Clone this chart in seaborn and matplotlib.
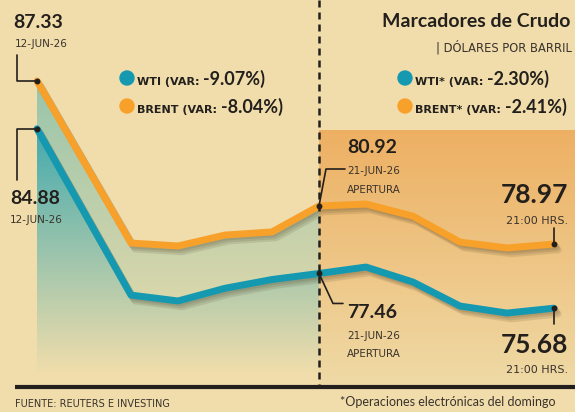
import numpy as np
import pandas as pd
import matplotlib
matplotlib.use("Agg")
import matplotlib.pyplot as plt
import seaborn as sns
from matplotlib import patheffects as pe
from matplotlib.colors import LinearSegmentedColormap
from matplotlib.patches import Polygon, Ellipse

# ---- data ----
pos = [0, 2, 3, 4, 5, 6, 7, 8, 9, 10, 11]   # 12-jun ... week ... 21-jun apertura ... 21:00 hrs
brent = [87.33, 79.02, 78.87, 79.43, 79.59, 80.92, 81.02, 80.40, 79.07, 78.77, 78.97]
wti = [84.88, 76.35, 76.05, 76.70, 77.15, 77.46, 77.79, 77.02, 75.79, 75.43, 75.68]
series = ["BRENT", "WTI"]
var_semana = {"WTI": "-9.07%", "BRENT": "-8.04%"}
var_domingo = {"WTI": "-2.30%", "BRENT": "-2.41%"}

df = pd.DataFrame({
    "pos": pos * 2,
    "precio": brent + wti,
    "crudo": ["BRENT"] * len(pos) + ["WTI"] * len(pos),
})

# ---- colours ----
BG = "#F0DDAB"
TEAL = "#1599B0"
ORANGE = "#F8A12A"
INK = "#231f1c"

sns.set_theme(style="white")
plt.rcParams["font.family"] = ["DejaVu Sans"]
NUM = {"family": ["Lato", "DejaVu Sans"], "weight": "bold", "color": INK}
SMALL = {"family": ["DejaVu Sans"], "color": "#3a332c"}

W, H = 575, 412
fig = plt.figure(figsize=(W / 100, H / 100), dpi=100)
fig.patch.set_facecolor(BG)
ax = fig.add_axes([0, 0, 1, 1])
ax.set_facecolor(BG)

# axis range: 47 px per position step, 19.5 px per dollar
X0, X1 = -37 / 47, (W - 37) / 47
Y1 = 87.33 + 81 / 19.5
Y0 = Y1 - H / 19.5
PX = (X1 - X0) / W
PY = (Y1 - Y0) / H


def at(x, y, dx, dy):
    # shift a data point by dx px right, dy px down
    return x + dx * PX, y - dy * PY


def fy(py):
    return Y1 - py * PY


def gradient(c_top, c_bottom, x0, x1, y_top, y_bot, clip=None, z=1):
    cmap = LinearSegmentedColormap.from_list("g", [c_bottom, c_top])
    grad = np.linspace(0, 1, 256).reshape(-1, 1)
    im = ax.imshow(grad, extent=[x0, x1, y_bot, y_top], origin="lower", cmap=cmap,
                   aspect="auto", zorder=z, interpolation="bicubic")
    if clip is not None:
        im.set_clip_path(clip)


base = fy(387)
fade = fy(372)

# orange panel behind the sunday session
gradient("#EDB063", "#EFDAA6", pos[5], X1, fy(130), base, z=1)

# teal fills of the weekly part
k = pos.index(6) + 1
clip_b = Polygon(list(zip(pos[:k], brent[:k])) + [(pos[k - 1], fade), (pos[0], fade)],
                 closed=True, transform=ax.transData)
gradient("#98C5AC", BG, pos[0], pos[k - 1], max(brent), fade, clip=clip_b, z=2)
clip_w = Polygon(list(zip(pos[:k], wti[:k])) + [(pos[k - 1], fade), (pos[0], fade)],
                 closed=True, transform=ax.transData)
gradient("#42AAAE", BG, pos[0], pos[k - 1], max(wti), fade, clip=clip_w, z=3)

# lines
sns.lineplot(data=df, x="pos", y="precio", hue="crudo", hue_order=series,
             palette=[ORANGE, TEAL], linewidth=5, legend=False, ax=ax, zorder=5)
shadow = [pe.SimpleLineShadow(offset=(o, -1.4 * o), shadow_color="#4a3a20", alpha=0.13)
          for o in (1.0, 2.0, 3.0)]
for ln in ax.get_lines():
    ln.set_solid_joinstyle("round")
    ln.set_path_effects(shadow + [pe.Normal()])

ax.set_xlim(X0, X1)
ax.set_ylim(Y0, Y1)
ax.axis("off")

# dashed separator and base line
ax.plot([pos[5], pos[5]], [Y1, base], color=INK, lw=1.8, ls=(0, (2.8, 2)), zorder=6)
ax.plot([X0 + 15 * PX, X1], [base, base], color=INK, lw=3, solid_capstyle="butt", zorder=6)

# end / opening dots
for i in [0, 5, 10]:
    ax.scatter([pos[i], pos[i]], [brent[i], wti[i]], s=18, color=INK, zorder=8, linewidths=0)


def callout(x, y, offs):
    pts = [(x, y)] + [at(x, y, dx, dy) for dx, dy in offs]
    ax.plot([p[0] for p in pts], [p[1] for p in pts], color=INK, lw=1.2, zorder=7)


def label(x, y, dx, dy, s, size, style, ha="left"):
    tx, ty = at(x, y, dx, dy)
    ax.text(tx, ty, s, fontsize=size, ha=ha, va="baseline", zorder=9, **style)


# start (12-jun)
callout(pos[0], brent[0], [(-20, 0), (-20, -26)])
label(pos[0], brent[0], -24, -53, f"{brent[0]:.2f}", 14, NUM)
label(pos[0], brent[0], -22, -34, "12-JUN-26", 7.5, SMALL)
callout(pos[0], wti[0], [(-20, 0), (-20, 51)])
label(pos[0], wti[0], -27, 75, f"{wti[0]:.2f}", 14, NUM)
label(pos[0], wti[0], -27, 94, "12-JUN-26", 7.5, SMALL)

# opening (21-jun)
callout(pos[5], brent[5], [(7, -37), (26, -37)])
label(pos[5], brent[5], 28, -53, f"{brent[5]:.2f}", 14, NUM)
label(pos[5], brent[5], 28, -32, "21-JUN-26", 7.5, SMALL)
label(pos[5], brent[5], 28, -13, "APERTURA", 7.5, SMALL)
callout(pos[5], wti[5], [(14, 30), (24, 30)])
label(pos[5], wti[5], 28, 45, f"{wti[5]:.2f}", 14, NUM)
label(pos[5], wti[5], 28, 66, "21-JUN-26", 7.5, SMALL)
label(pos[5], wti[5], 28, 84, "APERTURA", 7.5, SMALL)

# last (21:00 hrs)
callout(pos[10], brent[10], [(0, -16)])
label(pos[10], brent[10], 14, -41, f"{brent[10]:.2f}", 19, NUM, ha="right")
label(pos[10], brent[10], 14, -20, "21:00 HRS.", 8, SMALL, ha="right")
callout(pos[10], wti[10], [(0, 16)])
label(pos[10], wti[10], 14, 45, f"{wti[10]:.2f}", 19, NUM, ha="right")
label(pos[10], wti[10], 14, 65, "21:00 HRS.", 8, SMALL, ha="right")


# legends
def legend_row(px, py, color, name, value):
    fig.add_artist(Ellipse((px / W, 1 - (py - 7) / H), 14 / W, 14 / H,
                           transform=fig.transFigure, color=color))
    t = fig.text((px + 10) / W, 1 - py / H, f"{name} (VAR: ", fontsize=8, va="baseline",
                 family=SMALL["family"], weight="bold", color=INK)
    ax.annotate(value + ")", xy=(1, 0), xycoords=t, va="bottom", fontsize=13,
                xytext=(0, -0.5), textcoords="offset points", **NUM)


legend_row(127, 85, TEAL, "WTI", var_semana["WTI"])
legend_row(127, 113, ORANGE, "BRENT", var_semana["BRENT"])
legend_row(405, 85, TEAL, "WTI*", var_domingo["WTI"])
legend_row(405, 113, ORANGE, "BRENT*", var_domingo["BRENT"])

# titles and footer
fig.text(382 / W, 1 - 27 / H, "Marcadores de Crudo", fontsize=14, va="baseline",
         family=["Lato", "DejaVu Sans"], weight="bold", color=INK)
fig.text(436 / W, 1 - 52 / H, "| DÓLARES POR BARRIL", fontsize=8.3, va="baseline", **SMALL)
fig.text(15 / W, 1 - 407 / H, "FUENTE: REUTERS E INVESTING", fontsize=7, va="baseline", **SMALL)
fig.text(340 / W, 1 - 406 / H, "*Operaciones electrónicas del domingo", fontsize=9,
         va="baseline", family=["Lato", "DejaVu Sans"], color="#3a332c")

fig.savefig("out.png", dpi=100, facecolor=BG)
